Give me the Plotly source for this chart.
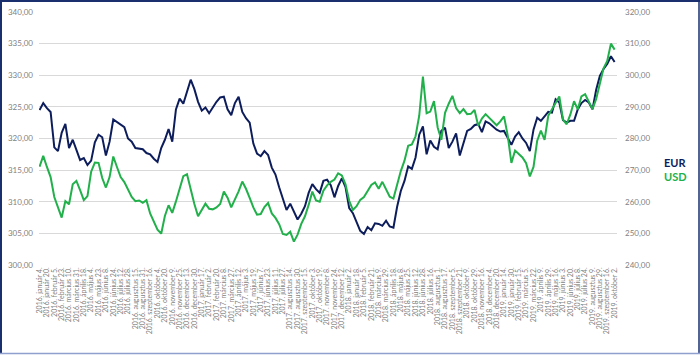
import plotly.graph_objects as go

# Tick labels (every 2nd sample)
labels = [
    "2016. január 4.", "2016. január 20.", "2016. február 5.", "2016. február 23.", "2016. március 10.",
    "2016. március 31.", "2016. április 18.", "2016. május 4.", "2016. május 23.", "2016. június 8.",
    "2016. június 24.", "2016. július 12.", "2016. július 28.", "2016. augusztus 15.", "2016. augusztus 31.",
    "2016. szeptember 16.", "2016. október 4.", "2016. október 20.", "2016. november 9.", "2016. november 25.",
    "2016. december 13.", "2016. december 30.",
    "2017. január 17.", "2017. február 2.", "2017. február 20.", "2017. március 8.", "2017. március 27.",
    "2017. április 12.", "2017. május 3.", "2017. május 19.", "2017. június 7.", "2017. június 23.",
    "2017. július 11.", "2017. július 27.", "2017. augusztus 14.", "2017. augusztus 30.", "2017. szeptember 15.",
    "2017. október 3.", "2017. október 19.", "2017. november 8.", "2017. november 24.", "2017. december 12.",
    "2018. január 2.", "2018. január 18.", "2018. február 5.", "2018. február 21.", "2018. március 9.",
    "2018. március 29.", "2018. április 18.", "2018. május 8.", "2018. május 25.", "2018. június 12.",
    "2018. június 28.", "2018. július 16.", "2018. augusztus 1.", "2018. augusztus 17.", "2018. szeptember 5.",
    "2018. szeptember 21.", "2018. október 9.", "2018. október 29.", "2018. november 16.", "2018. december 4.",
    "2018. december 20.",
    "2019. január 14.", "2019. január 30.", "2019. február 15.", "2019. március 5.", "2019. március 22.",
    "2019. április 9.", "2019. április 29.", "2019. május 16.", "2019. június 3.", "2019. június 20.",
    "2019. július 8.", "2019. július 24.", "2019. augusztus 9.", "2019. augusztus 29.", "2019. szeptember 16.",
    "2019. október 2.",
]

eur = [
    324.5, 325.6, 324.8, 324.2, 318.6, 318.0, 320.9, 322.3, 318.5, 319.8,
    318.2, 316.6, 316.9, 315.8, 316.5, 319.4, 320.6, 320.2, 317.3, 319.5,
    323.0, 322.6, 322.2, 321.8, 320.0, 319.5, 318.5, 318.4, 318.3, 317.7,
    317.5, 316.8, 316.3, 318.5, 319.8, 321.5, 319.5, 324.6, 326.3, 325.5,
    327.5, 329.3, 327.8, 325.8, 324.4, 324.9, 324.0, 325.0, 325.8, 326.5,
    326.6, 324.6, 323.7, 325.6, 326.6, 324.2, 323.2, 322.5, 319.2, 317.6,
    317.2, 318.0, 317.4, 315.4, 314.3, 312.3, 310.4, 308.7, 309.7, 308.3,
    307.2, 308.1, 309.3, 311.4, 312.8, 312.0, 311.4, 313.3, 313.5, 312.6,
    310.7, 312.5, 313.7, 312.3, 309.0, 308.2, 306.8, 305.4, 304.9, 306.0,
    305.5, 306.6, 306.5, 306.2, 307.0, 306.1, 305.9, 309.2, 311.7, 313.3,
    315.6, 315.2, 317.0, 320.6, 321.9, 317.5, 319.7, 318.7, 318.3, 321.2,
    321.7, 318.5, 319.5, 320.8, 317.3, 319.1, 321.2, 321.5, 322.1, 322.3,
    321.0, 322.7, 322.4, 321.9, 321.4, 321.1, 321.2, 320.1, 319.0, 320.3,
    321.0, 320.0, 319.3, 318.0, 321.4, 323.3, 322.8, 323.5, 324.2, 324.1,
    326.2, 325.7, 322.9, 322.5, 322.8, 322.8, 324.6, 325.6, 326.1, 325.7,
    324.6, 327.7, 329.9, 331.0, 331.8, 333.0, 332.1,
]

usd = [
    271.1, 274.5, 271.0, 267.8, 261.5, 258.2, 255.0, 260.2, 259.2, 265.5,
    266.6, 263.7, 260.5, 261.8, 269.5, 272.4, 272.3, 267.5, 264.5, 267.8,
    274.3, 271.0, 267.8, 266.2, 263.8, 261.5, 260.2, 260.4, 259.7, 260.5,
    256.3, 253.9, 251.2, 249.9, 255.5, 258.9, 256.5, 260.1, 264.5, 268.1,
    268.7, 263.5, 259.3, 255.4, 257.5, 259.4, 257.8, 257.6, 258.2, 259.3,
    263.2, 261.3, 258.2, 260.7, 263.3, 266.4, 264.1, 261.2, 258.2, 255.9,
    256.1, 258.3, 259.6, 256.3, 254.9, 252.9, 249.8, 249.5, 250.5, 247.4,
    249.6, 253.0, 255.4, 259.0, 263.2, 260.4, 260.0, 263.5, 265.2, 266.3,
    267.0, 269.0, 268.3, 265.5, 260.3, 257.4, 258.6, 260.6, 261.5, 263.4,
    265.3, 266.1, 264.1, 266.3, 264.1, 261.6, 261.0, 265.6, 269.7, 273.0,
    277.7, 278.1, 280.7, 287.2, 299.6, 288.0, 288.5, 291.8, 283.5, 279.6,
    288.1, 291.0, 293.5, 289.6, 288.0, 289.3, 287.7, 287.8, 289.0, 284.0,
    286.3, 287.7, 286.6, 285.4, 284.2, 285.4, 287.0, 281.0, 272.3, 276.2,
    275.1, 274.0, 272.2, 268.0, 271.0, 279.3, 282.5, 279.6, 287.2, 289.3,
    291.5, 293.3, 286.0, 284.5, 287.6, 291.8, 289.2, 293.3, 294.0, 291.6,
    289.3, 292.5, 297.8, 302.2, 304.5, 310.0, 308.1,
]

NAVY = "#0d1d5c"
GREEN = "#22b04b"
GRID = "#d9d9d9"
TXT = "#7f7f7f"
FONT = "Lato"

x = list(range(len(eur)))
tickvals = [2 * i for i in range(len(labels))]

fig = go.Figure()
fig.add_trace(go.Scatter(x=x, y=eur, mode="lines", name="EUR",
                         line=dict(color=NAVY, width=2), yaxis="y"))
fig.add_trace(go.Scatter(x=x, y=usd, mode="lines", name="USD",
                         line=dict(color=GREEN, width=2), yaxis="y2"))

W, H = 700, 355
L, R, T, B = 39, 83, 12, 90
pw, ph = W - L - R, H - T - B

def px(xp):
    return (xp - L) / pw

def py(yp):
    return (H - B - yp) / ph

fig.update_layout(
    width=W, height=H,
    margin=dict(l=L, r=R, t=T, b=B, autoexpand=False),
    paper_bgcolor="white", plot_bgcolor="white",
    separators=", ",
    showlegend=False,
    font=dict(family=FONT, color=TXT),
    xaxis=dict(
        range=[-0.15, len(eur) - 1 + 0.65],
        tickmode="array", tickvals=tickvals, ticktext=labels,
        tickangle=-90, tickfont=dict(size=7, color=TXT, family=FONT),
        showgrid=False, zeroline=False, showline=False, ticks="",
        automargin=False,
    ),
    yaxis=dict(
        range=[300, 340], dtick=5, tick0=300, tickformat=".2f",
        gridcolor=GRID, gridwidth=1, zeroline=False, showline=False,
        tickfont=dict(size=8, color=TXT, family=FONT), automargin=False,
        ticklabelstandoff=5,
    ),
    yaxis2=dict(
        range=[240, 320], dtick=10, tick0=240, tickformat=".2f",
        overlaying="y", side="right", showgrid=False, zeroline=False,
        showline=False, tickfont=dict(size=8, color=TXT, family=FONT),
        automargin=False, ticklabelstandoff=7,
    ),
    annotations=[
        dict(xref="paper", yref="paper", x=px(662), y=py(162), text="<b>EUR</b>",
             showarrow=False, xanchor="left", yanchor="middle",
             font=dict(size=11, color=NAVY, family=FONT)),
        dict(xref="paper", yref="paper", x=px(662), y=py(176), text="<b>USD</b>",
             showarrow=False, xanchor="left", yanchor="middle",
             font=dict(size=11, color=GREEN, family=FONT)),
    ],
    shapes=[
        dict(type="line", xref="paper", yref="paper", x0=px(0), x1=px(700), y0=py(1), y1=py(1),
             line=dict(color="#1a2f6e", width=2)),
        dict(type="line", xref="paper", yref="paper", x0=px(1), x1=px(1), y0=py(0), y1=py(354),
             line=dict(color="#1a2f6e", width=2)),
        dict(type="line", xref="paper", yref="paper", x0=px(699), x1=px(699), y0=py(0), y1=py(354),
             line=dict(color="#1a2f6e", width=1.5)),
        dict(type="line", xref="paper", yref="paper", x0=px(0), x1=px(700), y0=py(353.5), y1=py(353.5),
             line=dict(color="#8fa0cf", width=1.5)),
    ],
)

fig.write_html(
    "out.html",
    config={"displayModeBar": False},
    post_script="document.body.style.margin='0';document.body.style.overflow='hidden';",
)
